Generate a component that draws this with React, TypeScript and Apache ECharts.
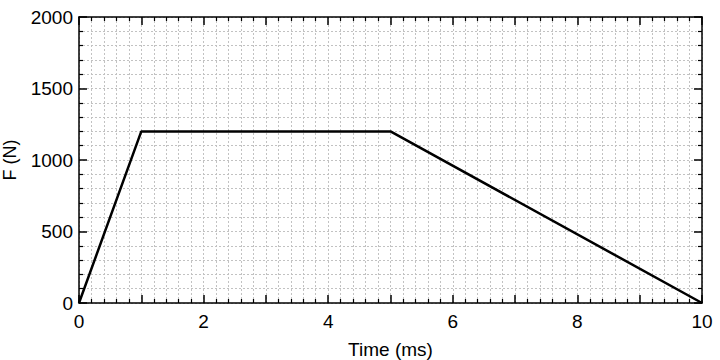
import React, { useEffect, useRef } from "react";
import * as echarts from "echarts";

const timeMs = [0, 1, 5, 10];
const forceN = [0, 1200, 1200, 0];
const xTickLabels = ["0", "2", "4", "6", "8", "10"];
const yTickLabels = ["0", "500", "1000", "1500", "2000"];

export default function App() {
  const ref = useRef<HTMLDivElement>(null);
  useEffect(() => {
    if (!ref.current) return;
    const chart = echarts.init(ref.current, null, { renderer: "svg" });
    const font = "'Liberation Sans', Arial, Helvetica, sans-serif";
    const gridLine = { show: true, lineStyle: { color: "#c2c2c2", type: [2, 2] as any, width: 1 } };
    const baseAxis = (extra: any) => ({
      type: "value",
      axisLine: { show: true, onZero: false, lineStyle: { color: "#000", width: 1.5 } },
      axisTick: { show: true, inside: true, length: 8, lineStyle: { color: "#000", width: 1.5 } },
      minorTick: { show: true, splitNumber: 5, length: 4, lineStyle: { color: "#000", width: 1.2 } },
      ...extra,
    });
    chart.setOption({
      animation: false,
      grid: { left: 79, right: 18, top: 17, bottom: 57, containLabel: false, outerBoundsMode: "none" },
      xAxis: [
        baseAxis({
          min: 0, max: 10, interval: 1, position: "bottom",
          name: "Time (ms)", nameLocation: "middle", nameGap: 37,
          nameTextStyle: { fontFamily: font, fontSize: 19, color: "#000" },
          axisLabel: {
            fontFamily: font, fontSize: 19, color: "#000", margin: 9,
            formatter: (v: number) => (xTickLabels.includes(String(v)) ? String(v) : ""),
          },
          splitLine: gridLine,
          minorSplitLine: gridLine,
        }),
        baseAxis({
          min: 0, max: 10, interval: 1, position: "top",
          axisLabel: { show: false },
          splitLine: { show: false },
        }),
      ],
      yAxis: [
        baseAxis({
          min: 0, max: 2000, interval: 500, position: "left",
          name: "F (N)", nameLocation: "middle", nameGap: 60,
          nameTextStyle: { fontFamily: font, fontSize: 18, color: "#000" },
          axisLabel: {
            fontFamily: font, fontSize: 19, color: "#000", margin: 6,
            formatter: (v: number) => (yTickLabels.includes(String(v)) ? String(v) : ""),
          },
          splitLine: gridLine,
          minorSplitLine: gridLine,
        }),
        baseAxis({
          min: 0, max: 2000, interval: 500, position: "right",
          axisLabel: { show: false },
          splitLine: { show: false },
        }),
      ],
      series: [
        {
          type: "line",
          data: timeMs.map((t, i) => [t, forceN[i]]),
          showSymbol: false,
          symbol: "none",
          lineStyle: { color: "#000", width: 2.5 },
          xAxisIndex: 0,
          yAxisIndex: 0,
          z: 5,
        },
      ],
    });
    return () => chart.dispose();
  }, []);
  return <div ref={ref} style={{ width: 720, height: 360, position: "absolute", left: 0, top: 0 }} />;
}
